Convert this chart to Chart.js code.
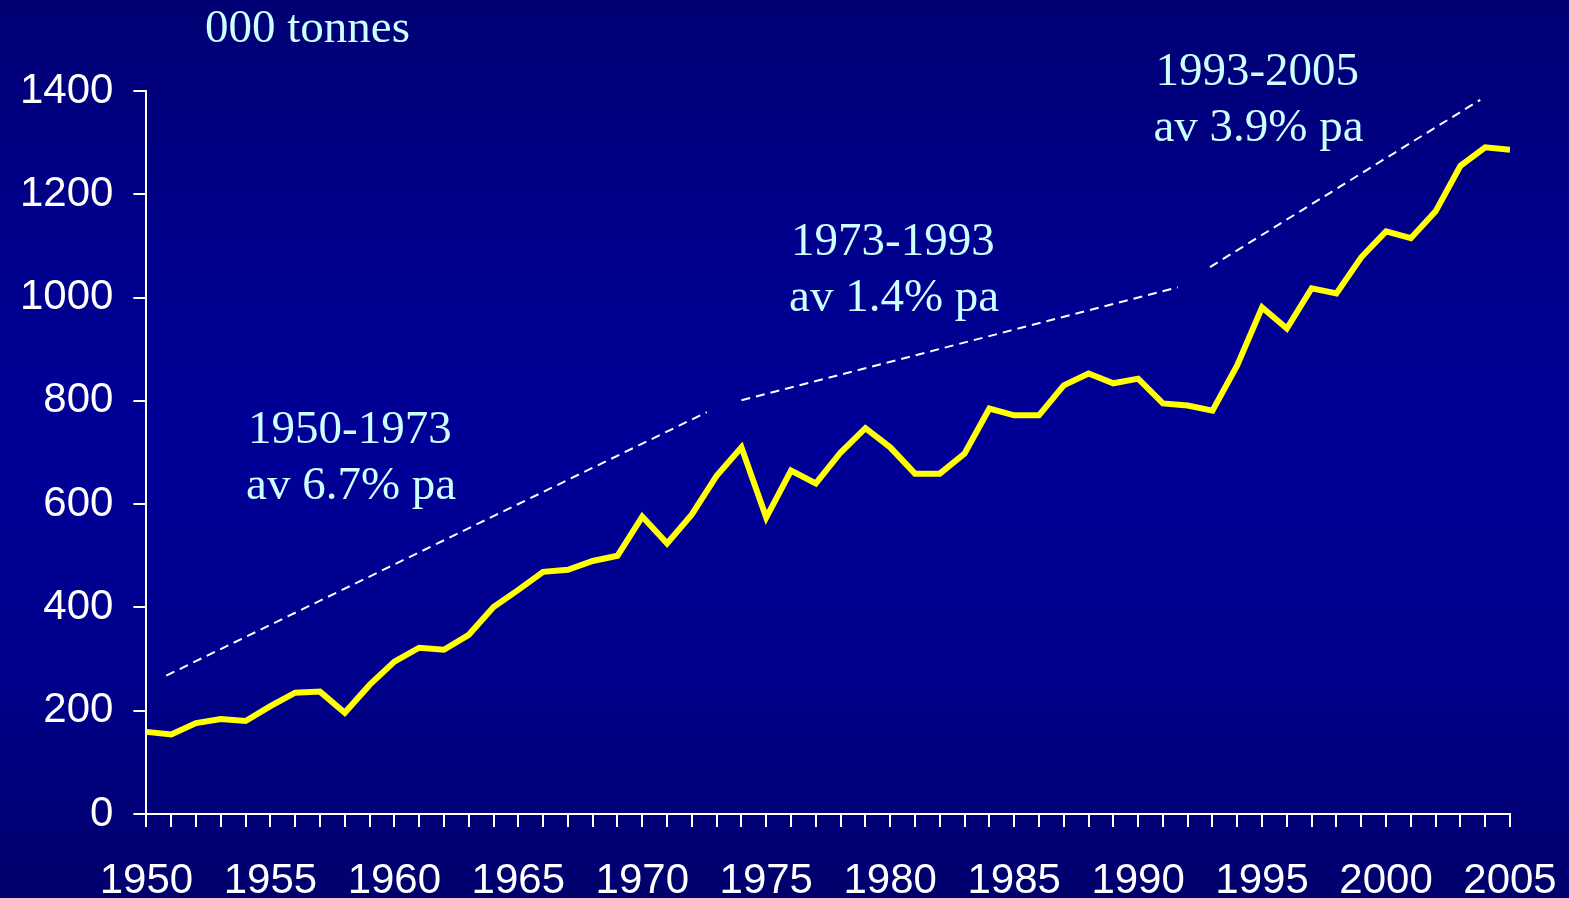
<!DOCTYPE html>
<html>
<head>
<meta charset="utf-8">
<script src="https://cdn.jsdelivr.net/npm/chart.js@4"></script>
<style>
  html, body { margin: 0; padding: 0; }
  body {
    width: 1569px; height: 898px; overflow: hidden;
    background: linear-gradient(to bottom, #000074 0%, #00008e 30%, #000098 50%, #00008c 75%, #00006c 100%);
  }
  #wrap { position: relative; width: 1569px; height: 898px; }
</style>
</head>
<body>
<div id="wrap"><canvas id="mainChart"></canvas></div>
<script>
// Production, thousand tonnes, 1950-2005
const years = [1950, 1951, 1952, 1953, 1954, 1955, 1956, 1957, 1958, 1959,
    1960, 1961, 1962, 1963, 1964, 1965, 1966, 1967, 1968, 1969,
    1970, 1971, 1972, 1973, 1974, 1975, 1976, 1977, 1978, 1979,
    1980, 1981, 1982, 1983, 1984, 1985, 1986, 1987, 1988, 1989,
    1990, 1991, 1992, 1993, 1994, 1995, 1996, 1997, 1998, 1999,
    2000, 2001, 2002, 2003, 2004, 2005];
const tonnes = [159, 154, 176, 184, 180, 209, 235, 237, 196, 250,
    295, 322, 318, 347, 401, 434, 469, 473, 490, 500,
    576, 524, 580, 655, 710, 574, 665, 640, 700, 747,
    710, 659, 659, 698, 785, 772, 772, 830, 853, 834,
    843, 795, 791, 781, 869, 981, 940, 1018, 1008, 1078,
    1128, 1115, 1167, 1255, 1291, 1286];

// Trend lines (start / end year and value)
const trendStartYears = [1950.8, 1974.0, 1992.9];
const trendStartValues = [268, 801, 1059];
const trendEndYears = [1972.6, 1991.6, 2003.8];
const trendEndValues = [778, 1020, 1383];
const trendTitles = ['1950-1973', '1973-1993', '1993-2005'];
const trendRates = ['av 6.7% pa', 'av 1.4% pa', 'av 3.9% pa'];

const unitLabel = '000 tonnes';

// Where the text blocks sit (year, value of first baseline)
const textAnchors = [
    { x: 1954.1, y: 719 },
    { x: 1976.0, y: 1082 },
    { x: 1990.7, y: 1412 },
];

var datasets = [
    {
        data: years.map((y, i) => ({ x: y, y: tonnes[i] })),
        borderColor: '#ffff00',
        borderWidth: 6,
        pointRadius: 0,
        tension: 0,
        borderJoinStyle: 'miter',
    },
];
trendStartYears.forEach((sy, i) => {
    datasets.push({
        data: [
            { x: sy, y: trendStartValues[i] },
            { x: trendEndYears[i], y: trendEndValues[i] },
        ],
        borderColor: '#ffffff',
        borderWidth: 2,
        borderDash: [9, 6],
        pointRadius: 0,
    });
});

const textPlugin = {
    id: 'textPlugin',
    afterDraw(chart) {
        const ctx = chart.ctx;
        const xs = chart.scales.x;
        const ys = chart.scales.y;
        ctx.save();
        ctx.fillStyle = '#ccffff';
        ctx.font = '47px "Liberation Serif", "Times New Roman", serif';
        ctx.textBaseline = 'alphabetic';
        ctx.textAlign = 'left';
        ctx.fillText(unitLabel, 205, 42);
        textAnchors.forEach((a, i) => {
            const px = xs.getPixelForValue(a.x);
            const py = ys.getPixelForValue(a.y);
            ctx.fillText(trendTitles[i], px, py);
            ctx.fillText(trendRates[i], px - 2, py + 56);
        });
        ctx.restore();
    },
};

var ctx = document.getElementById('mainChart').getContext('2d');
var chart = new Chart(ctx, {
    type: 'line',
    data: { datasets: datasets },
    options: {
        responsive: true,
        maintainAspectRatio: false,
        animation: false,
        layout: { padding: { top: 91, right: 59, left: 0, bottom: -37 } },
        plugins: { legend: { display: false }, tooltip: { enabled: false } },
        scales: {
            x: {
                type: 'linear',
                min: 1950,
                max: 2005,
                afterFit: (scale) => {
                    // let the year labels hang past the plot edges
                    scale.paddingLeft = 0;
                    scale.paddingRight = 0;
                },
                border: { color: '#ffffff', width: 2 },
                grid: {
                    drawOnChartArea: false,
                    drawTicks: true,
                    tickLength: 13,
                    color: '#ffffff',
                    lineWidth: 2,
                },
                ticks: {
                    stepSize: 1,
                    autoSkip: false,
                    maxRotation: 0,
                    color: '#ffffff',
                    padding: 33,
                    font: { family: '"Liberation Sans", Arial, sans-serif', size: 42, lineHeight: 1 },
                    callback: (v) => (v % 5 === 0 ? String(v) : ''),
                },
            },
            y: {
                min: 0,
                max: 1400,
                border: { color: '#ffffff', width: 2 },
                grid: {
                    drawOnChartArea: false,
                    drawTicks: true,
                    tickLength: 13,
                    color: '#ffffff',
                    lineWidth: 2,
                },
                ticks: {
                    stepSize: 200,
                    color: '#ffffff',
                    padding: 20,
                    font: { family: '"Liberation Sans", Arial, sans-serif', size: 42 },
                    callback: (v) => String(v),
                },
            },
        },
    },
    plugins: [textPlugin],
});
</script>
</body>
</html>
